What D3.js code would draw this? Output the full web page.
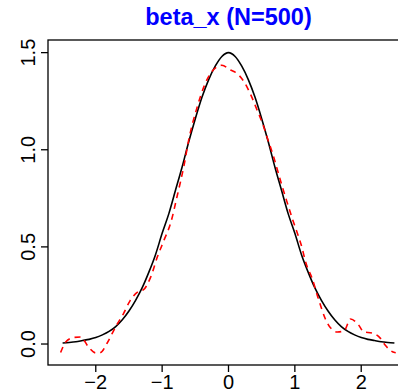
<!DOCTYPE html>
<html>
<head>
<meta charset="utf-8">
<script src="https://cdn.jsdelivr.net/npm/d3@7"></script>
<style>
  body { margin: 0; background: #fff; }
  svg { display: block; font-family: "Liberation Sans", Arial, sans-serif; }
</style>
</head>
<body>
<div id="graphicContainer"></div>
<script>

// true density (solid black)
var trueX = [-2.5,-2.4,-2.3,-2.2,-2.1,-2.0,-1.9,-1.8,-1.7,-1.6,-1.5,-1.4,-1.3,-1.2,-1.1,-1.0,-0.9,-0.8,-0.7,-0.6,-0.5,-0.4,-0.3,-0.2,-0.1,
	0,0.1,0.2,0.3,0.4,0.5,0.6,0.7,0.8,0.9,1.0,1.1,1.2,1.3,1.4,1.5,1.6,1.7,1.8,1.9,2.0,2.1,2.2,2.3,2.4,2.5]
var trueY = [0.005,0.008,0.012,0.018,0.024,0.033,0.047,0.065,0.09,0.125,0.17,0.225,0.29,0.37,0.46,0.57,0.67,0.79,0.91,1.04,1.16,1.27,1.36,1.43,1.48,
	1.50,1.48,1.43,1.36,1.27,1.16,1.04,0.91,0.79,0.67,0.57,0.46,0.37,0.29,0.225,0.17,0.125,0.09,0.065,0.047,0.033,0.024,0.018,0.012,0.008,0.005]

// estimated density (red dashed)
var estX = [-2.53,-2.45,-2.33,-2.23,-2.10,-2.00,-1.93,-1.83,-1.70,-1.58,-1.48,-1.36,-1.28,-1.17,-1.07,-0.97,-0.87,-0.77,-0.67,-0.60,-0.47,-0.37,-0.27,-0.17,-0.10,
	0.03,0.10,0.23,0.33,0.43,0.53,0.58,0.68,0.73,0.81,0.88,0.96,1.03,1.11,1.16,1.26,1.36,1.46,1.54,1.64,1.74,1.84,1.96,2.04,2.16,2.29,2.36,2.47,2.52]
var estY = [-0.044,0.012,0.034,0.036,-0.02,-0.046,-0.044,0.004,0.089,0.158,0.225,0.27,0.28,0.347,0.45,0.536,0.625,0.767,0.92,1.05,1.222,1.325,1.394,1.428,1.435,
	1.411,1.40,1.352,1.287,1.205,1.119,1.066,0.964,0.905,0.81,0.733,0.647,0.578,0.493,0.424,0.338,0.227,0.129,0.082,0.062,0.067,0.129,0.098,0.062,0.057,0.029,-0.005,-0.04,-0.045]

var xTicks = [-2,-1,0,1,2]
var yTicks = [0,0.5,1,1.5]
var title = "beta_x (N=500)"

var width = 398, height = 391
var margin = {left: 48, top: 40, bottom: 365}

var svg = d3.select("#graphicContainer").append("svg")
	.attr("width", width)
	.attr("height", height)

// plot region runs past the right edge of the picture
var x = d3.scaleLinear().domain([-2.72, 2.72]).range([margin.left, 409])
var y = d3.scaleLinear().domain([-0.108, 1.565]).range([margin.bottom, margin.top])

var fmt = function(d) { return d3.format(".1f")(d) }
var fmtX = function(d) { return d < 0 ? "\u2212" + Math.abs(d) : String(d) }

// box
svg.append("rect")
	.attr("x", x.range()[0]).attr("y", y.range()[1])
	.attr("width", x.range()[1] - x.range()[0])
	.attr("height", y.range()[0] - y.range()[1])
	.attr("fill", "none").attr("stroke", "#000").attr("stroke-width", 1.3)

// x axis
svg.append("g").selectAll("line").data(xTicks).enter().append("line")
	.attr("x1", d => x(d)).attr("x2", d => x(d))
	.attr("y1", margin.bottom).attr("y2", margin.bottom + 7)
	.attr("stroke", "#000").attr("stroke-width", 1.3)

svg.append("g").selectAll("text").data(xTicks).enter().append("text")
	.attr("x", d => x(d)).attr("y", 389)
	.attr("text-anchor", "middle")
	.attr("font-size", 20)
	.text(fmtX)

// y axis
svg.append("g").selectAll("line").data(yTicks).enter().append("line")
	.attr("x1", margin.left - 7).attr("x2", margin.left)
	.attr("y1", d => y(d)).attr("y2", d => y(d))
	.attr("stroke", "#000").attr("stroke-width", 1.3)

svg.append("g").selectAll("text").data(yTicks).enter().append("text")
	.attr("transform", d => "translate(35," + y(d) + ") rotate(-90)")
	.attr("text-anchor", "middle")
	.attr("font-size", 20)
	.text(fmt)

var line = d3.line()
	.x(d => x(d[0]))
	.y(d => y(d[1]))
	.curve(d3.curveMonotoneX)

svg.append("path")
	.datum(d3.zip(trueX, trueY))
	.attr("d", line)
	.attr("fill", "none")
	.attr("stroke", "#000")
	.attr("stroke-width", 1.6)

svg.append("path")
	.datum(d3.zip(estX, estY))
	.attr("d", line)
	.attr("fill", "none")
	.attr("stroke", "#ff0000")
	.attr("stroke-width", 1.6)
	.attr("stroke-dasharray", "6,5")

svg.append("text")
	.attr("x", (x.range()[0] + x.range()[1]) / 2)
	.attr("y", 25)
	.attr("text-anchor", "middle")
	.attr("font-size", 23.5)
	.attr("font-weight", "bold")
	.attr("fill", "#0000ff")
	.text(title)

</script>
</body>
</html>
